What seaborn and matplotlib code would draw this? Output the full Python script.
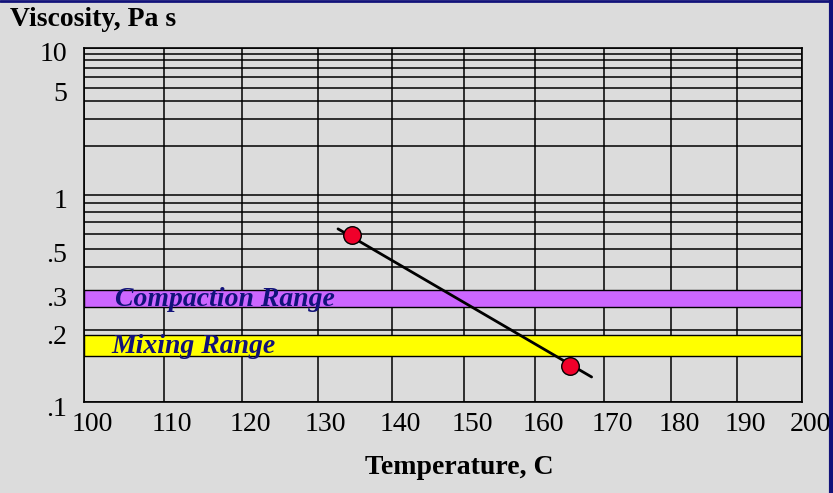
import numpy as np
import matplotlib
matplotlib.use("Agg")
import matplotlib.pyplot as plt
import seaborn as sns
import pandas as pd
from matplotlib.lines import Line2D
from matplotlib.transforms import ScaledTranslation

# Viscosity-temperature chart (log-log viscosity vs log absolute temperature)

# data
temps = [134.6, 165.0]           # C
visc = [0.59, 0.14]              # Pa s
line_temps = [132.7, 168.2]      # the fitted line runs a bit past the points
line_visc = [0.64, 0.126]

compaction = (0.255, 0.31)
mixing = (0.155, 0.19)

x_ticks = [100, 110, 120, 130, 140, 150, 160, 170, 180, 190, 200]
y_ticks = [0.1, 0.2, 0.3, 0.5, 1, 5, 10]
y_tick_labels = [".1", ".2", ".3", ".5", "1", "5", "10"]
y_minor = [0.4, 0.6, 0.7, 0.8, 0.9, 2, 3, 4, 6, 7, 8, 9]

bg = "#dcdcdc"
navy = "#12127a"

sns.set_theme(style="white")
plt.rcParams["font.family"] = ["Liberation Serif", "DejaVu Serif"]
plt.rcParams["text.color"] = "black"


# scales: y = log(log(mPa s)), x = log(T in K)
def y_fwd(v):
    with np.errstate(all="ignore"):
        return np.log10(np.log10(np.asarray(v, dtype=float) * 1000.0))


def y_inv(u):
    return 10 ** (10 ** np.asarray(u, dtype=float)) / 1000.0


def x_fwd(t):
    with np.errstate(all="ignore"):
        return np.log10(np.asarray(t, dtype=float) + 273.15)


def x_inv(u):
    return 10 ** np.asarray(u, dtype=float) - 273.15


fig = plt.figure(figsize=(8.33, 4.93), dpi=100, facecolor=bg)
ax = fig.add_axes([84 / 833, 1 - 402 / 493, 718 / 833, 354.3 / 493])
ax.set_facecolor(bg)
ax.set_xscale("function", functions=(x_fwd, x_inv))
ax.set_yscale("function", functions=(y_fwd, y_inv))
ax.set_xlim(100, 200)
ax.set_ylim(0.1, 10)

ax.set_xticks(x_ticks)
ax.set_xticklabels([str(t) for t in x_ticks])
ax.set_yticks(y_ticks)
ax.set_yticklabels(y_tick_labels)
ax.set_yticks(y_minor, minor=True)
ax.tick_params(axis="both", which="both", length=0, labelsize=20, colors="black")
ax.tick_params(axis="y", pad=12)
ax.tick_params(axis="x", pad=7)
ax.grid(True, which="both", color="black", linewidth=1.1)
ax.set_axisbelow(True)
for s in ax.spines.values():
    s.set_color("black")
    s.set_linewidth(1.2)

# tick labels sit a little right / below their grid lines
for lab in ax.get_xticklabels():
    lab.set_transform(lab.get_transform() + ScaledTranslation(8 / 100, 0, fig.dpi_scale_trans))
for lab in ax.get_yticklabels():
    lab.set_transform(lab.get_transform() + ScaledTranslation(0, -4 / 100, fig.dpi_scale_trans))

# viscosity ranges
ax.axhspan(compaction[0], compaction[1], facecolor="#cc66ff", edgecolor="black", linewidth=1.0, zorder=2)
ax.axhspan(mixing[0], mixing[1], facecolor="#ffff00", edgecolor="black", linewidth=1.0, zorder=2)
ax.text(103.8, 0.279, "Compaction Range", color=navy, fontsize=20, fontweight="bold",
        fontstyle="italic", va="center", ha="left", zorder=3)
ax.text(103.4, 0.170, "Mixing Range", color=navy, fontsize=20, fontweight="bold",
        fontstyle="italic", va="center", ha="left", zorder=3)

# line + measured points
sns.lineplot(x=line_temps, y=line_visc, color="black", linewidth=2.0, ax=ax, zorder=4)
pts = pd.DataFrame({"Temperature": temps, "Viscosity": visc})
sns.scatterplot(data=pts, x="Temperature", y="Viscosity", s=160, color="#f0002a",
                edgecolor="black", linewidth=1.0, ax=ax, zorder=5)

ax.set_xlabel("")
ax.set_ylabel("")
fig.text(10 / 833, 1 - 19 / 493, "Viscosity, Pa s", fontsize=20, fontweight="bold",
         color="black", ha="left", va="center")
fig.text(459 / 833, 1 - 468 / 493, "Temperature, C", fontsize=20, fontweight="bold",
         color="black", ha="center", va="center")

# frame of the slide
fig.add_artist(Line2D([0, 1], [0.998, 0.998], transform=fig.transFigure, color=navy, linewidth=2))
fig.add_artist(Line2D([0.998, 0.998], [0, 1], transform=fig.transFigure, color=navy, linewidth=3))

fig.savefig("out.png", dpi=100, facecolor=bg)
